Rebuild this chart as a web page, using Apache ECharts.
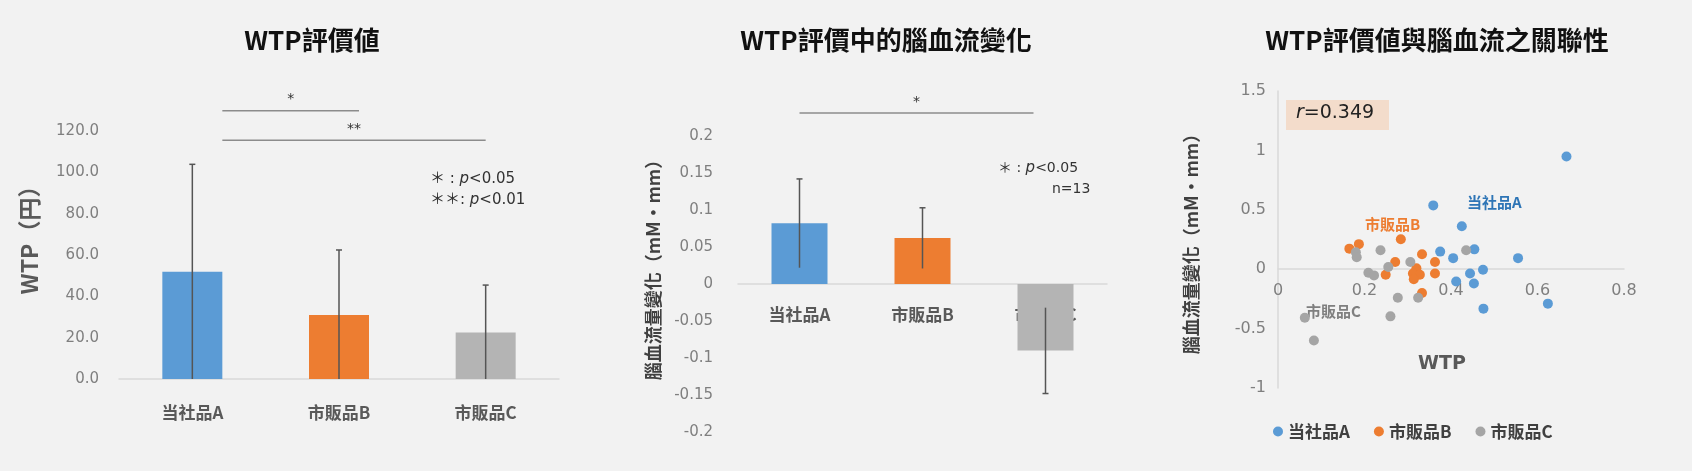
<!DOCTYPE html>
<html>
<head>
<meta charset="utf-8">
<script src="https://cdn.jsdelivr.net/npm/echarts@6/dist/echarts.min.js"></script>
<style>
	html, body { margin: 0; padding: 0; background: #f2f2f2; }
	#main { width: 1692px; height: 471px; }
</style>
</head>
<body>
<div id="main"></div>
<script>
	var categories = ["当社品A", "市販品B", "市販品C"];
	var wtpMean = [52, 31, 22.5];
	var wtpSd = [52, 31.5, 23];
	var cbfMean = [0.082, 0.062, -0.09];
	var cbfSd = [0.06, 0.041, 0.058];
	// 散布図: [WTP, 脳血流変化]
	var scatterA = [[0.667, 0.948], [0.359, 0.537], [0.425, 0.362], [0.375, 0.148], [0.405, 0.093], [0.454, 0.167], [0.555, 0.093], [0.474, -0.005], [0.444, -0.036], [0.412, -0.104], [0.453, -0.12], [0.475, -0.332], [0.624, -0.29]];
	var scatterB = [[0.165, 0.173], [0.187, 0.211], [0.284, 0.252], [0.333, 0.126], [0.271, 0.06], [0.363, 0.06], [0.249, -0.047], [0.32, 0.008], [0.312, -0.036], [0.328, -0.047], [0.314, -0.085], [0.363, -0.036], [0.333, -0.2]];
	var scatterC = [[0.18, 0.142], [0.182, 0.101], [0.237, 0.159], [0.306, 0.06], [0.255, 0.019], [0.209, -0.03], [0.222, -0.052], [0.435, 0.159], [0.277, -0.241], [0.324, -0.241], [0.26, -0.397], [0.062, -0.408], [0.083, -0.6]];
	// 有意差: [開始, 終了, 高さ, 記号]
	var wtpSig = [[0, 1, 130, "*"], [0, 2, 115.6, "**"]];
	var cbfSig = [[0, 2, 0.231, "*"]];

	var colors = ["#5b9bd5", "#ed7d31", "#b4b4b4"];
	var tickColor = "#7f7f7f";
	var font = "'DejaVu Sans', 'Noto Sans CJK JP', sans-serif";
	var cjk = "'Noto Sans CJK TC', 'Noto Sans CJK JP', sans-serif";

	function errorSeries(idx, mean, sd) {
		return {
			type: 'custom', xAxisIndex: idx, yAxisIndex: idx, z: 5,
			data: mean.map(function(v, i) { return [i, v, sd[i]]; }),
			renderItem: function(params, api) {
				var i = api.value(0), v = api.value(1), s = api.value(2);
				var dir = v >= 0 ? 1 : -1;
				var p0 = api.coord([i, v >= 0 ? 0 : v + s]);
				var p1 = api.coord([i, v + dir * s]);
				if (v >= 0 && idx === 1) p0 = api.coord([i, v - s]);
				var st = { stroke: '#555', lineWidth: 1.5 };
				return { type: 'group', children: [
					{ type: 'line', shape: { x1: p0[0], y1: p0[1], x2: p1[0], y2: p1[1] }, style: st },
					{ type: 'line', shape: { x1: p1[0] - 3, y1: p1[1], x2: p1[0] + 3, y2: p1[1] }, style: st }
				] };
			}
		};
	}

	function sigSeries(idx, rows, offs) {
		return {
			type: 'custom', xAxisIndex: idx, yAxisIndex: idx, clip: false,
			data: rows,
			renderItem: function(params, api) {
				var a = api.coord([api.value(0), api.value(2)]);
				var b = api.coord([api.value(1), api.value(2)]);
				var o = offs[params.dataIndex];
				var x1 = a[0] + o[0], x2 = b[0] + o[1];
				return { type: 'group', children: [
					{ type: 'line', shape: { x1: x1, y1: a[1], x2: x2, y2: a[1] }, style: { stroke: '#8c8c8c', lineWidth: 1.5 } },
					{ type: 'text', style: { text: rows[params.dataIndex][3], x: (x1 + x2) / 2, y: a[1] - 4, align: 'center', verticalAlign: 'bottom', fill: '#333', font: '14px ' + font } }
				] };
			}
		};
	}

	var catAxisLabel = { color: '#595959', fontWeight: 'bold', fontSize: 17, fontFamily: cjk };
	var tickLabel = { color: tickColor, fontSize: 15, fontFamily: font };
	var pRich = { i: { fontStyle: 'italic', fontSize: 15, fontFamily: font, fill: '#333' } };

	var chart = echarts.init(document.getElementById('main'));
	chart.setOption({
		backgroundColor: '#f2f2f2',
		animation: false,
		title: [
			{ text: 'WTP評價値', left: 307, top: 22, textAlign: 'center', textStyle: { fontSize: 26, fontWeight: 'bold', color: '#111', fontFamily: cjk } },
			{ text: 'WTP評價中的腦血流變化', left: 881, top: 22, textAlign: 'center', textStyle: { fontSize: 26, fontWeight: 'bold', color: '#111', fontFamily: cjk } },
			{ text: 'WTP評價値與腦血流之關聯性', left: 1432, top: 22, textAlign: 'center', textStyle: { fontSize: 26, fontWeight: 'bold', color: '#111', fontFamily: cjk } }
		],
		grid: [
			{ left: 119, width: 440, top: 90, height: 289 },
			{ left: 738, width: 369, top: 99, height: 333 },
			{ left: 1278, width: 346, top: 91, height: 297 }
		],
		xAxis: [
			{ gridIndex: 0, type: 'category', data: categories, axisTick: { show: false }, axisLine: { lineStyle: { color: '#d9d9d9', width: 1.5 } }, axisLabel: Object.assign({ margin: 25 }, catAxisLabel) },
			{ gridIndex: 1, type: 'category', data: categories, offset: -148, axisTick: { show: false }, axisLine: { onZero: false, lineStyle: { color: '#d9d9d9', width: 1.5 } }, axisLabel: Object.assign({ margin: 22 }, catAxisLabel) },
			{ gridIndex: 2, type: 'value', min: 0, max: 0.8, interval: 0.2, offset: -119, splitLine: { show: false }, axisTick: { show: false }, axisLine: { show: true, onZero: false, lineStyle: { color: '#d9d9d9', width: 1.5 } }, axisLabel: Object.assign({ margin: 14 }, tickLabel, { fontSize: 16 }) }
		],
		yAxis: [
			{ gridIndex: 0, type: 'value', min: 0, max: 140, interval: 20, splitLine: { show: false },
				name: 'WTP（円）', nameLocation: 'middle', nameGap: 78, nameTextStyle: { fontSize: 23, fontWeight: 'bold', color: '#595959', fontFamily: cjk },
				axisLabel: Object.assign({ margin: 20, formatter: function(v) { return v > 120 ? '' : v.toFixed(1); } }, tickLabel) },
			{ gridIndex: 1, type: 'value', min: -0.2, max: 0.25, interval: 0.05, splitLine: { show: false },
				name: '腦血流量變化（mM・mm）', nameLocation: 'middle', nameGap: 76, nameTextStyle: { fontSize: 18, fontWeight: 'bold', color: '#404040', fontFamily: cjk },
				axisLabel: Object.assign({ margin: 25, formatter: function(v) { v = Math.round(v * 100) / 100; return v > 0.2 ? '' : String(v); } }, tickLabel) },
			{ gridIndex: 2, type: 'value', min: -1, max: 1.5, interval: 0.5, splitLine: { show: false }, axisTick: { show: false },
				axisLine: { show: true, lineStyle: { color: '#d9d9d9', width: 1.5 } },
				name: '腦血流量變化（mM・mm）', nameLocation: 'middle', nameGap: 78, nameTextStyle: { fontSize: 18, fontWeight: 'bold', color: '#404040', fontFamily: cjk },
				axisLabel: Object.assign({ margin: 12 }, tickLabel, { fontSize: 16 }) }
		],
		legend: {
			left: 1268, top: 418, itemWidth: 10, itemHeight: 10, itemGap: 24,
			data: ['当社品A', '市販品B', '市販品C'],
			textStyle: { fontSize: 17, fontWeight: 'bold', color: '#404040', fontFamily: cjk }
		},
		graphic: [
			{ type: 'text', left: 430, top: 172, style: { text: '＊ : {i|p}<0.05', fill: '#333', font: '15px ' + font, rich: pRich } },
			{ type: 'text', left: 430, top: 193, style: { text: '＊＊: {i|p}<0.01', fill: '#333', font: '15px ' + font, rich: pRich } },
			{ type: 'text', left: 998, top: 161, style: { text: '＊ : {i|p}<0.05', fill: '#333', font: '14px ' + font, rich: pRich } },
			{ type: 'text', left: 1052, top: 182, style: { text: 'n=13', fill: '#333', font: '14px ' + font } },
			{ type: 'rect', shape: { x: 1286, y: 100, width: 103, height: 30 }, style: { fill: '#f3dccb' } },
			{ type: 'text', left: 1296, top: 104, style: { text: '{i|r}=0.349', fill: '#222', font: '19px ' + font, rich: { i: { fontStyle: 'italic', fontSize: 19, fontFamily: font, fill: '#222' } } } },
			{ type: 'text', left: 1418, top: 355, style: { text: 'WTP', fill: '#595959', font: 'bold 19px ' + font } },
			{ type: 'text', left: 1467, top: 195, style: { text: '当社品A', fill: '#2e75b6', font: 'bold 15px ' + cjk } },
			{ type: 'text', left: 1365, top: 217, style: { text: '市販品B', fill: '#ed7d31', font: 'bold 15px ' + cjk } },
			{ type: 'text', left: 1306, top: 304, style: { text: '市販品C', fill: '#7f7f7f', font: 'bold 15px ' + cjk } }
		],
		series: [
			{ type: 'bar', xAxisIndex: 0, yAxisIndex: 0, barWidth: 60, data: wtpMean.map(function(v, i) { return { value: v, itemStyle: { color: colors[i] } }; }) },
			errorSeries(0, wtpMean, wtpSd),
			sigSeries(0, wtpSig, [[30, 20], [30, 0]]),
			{ type: 'bar', xAxisIndex: 1, yAxisIndex: 1, barWidth: 56, data: cbfMean.map(function(v, i) { return { value: v, itemStyle: { color: colors[i] } }; }) },
			errorSeries(1, cbfMean, cbfSd),
			sigSeries(1, cbfSig, [[0, -12]]),
			{ name: '当社品A', type: 'scatter', xAxisIndex: 2, yAxisIndex: 2, symbolSize: 10, itemStyle: { color: '#5b9bd5', opacity: 1 }, data: scatterA },
			{ name: '市販品B', type: 'scatter', xAxisIndex: 2, yAxisIndex: 2, symbolSize: 10, itemStyle: { color: '#ed7d31', opacity: 1 }, data: scatterB },
			{ name: '市販品C', type: 'scatter', xAxisIndex: 2, yAxisIndex: 2, symbolSize: 10, itemStyle: { color: '#a5a5a5', opacity: 1 }, data: scatterC }
		]
	});
</script>
</body>
</html>
